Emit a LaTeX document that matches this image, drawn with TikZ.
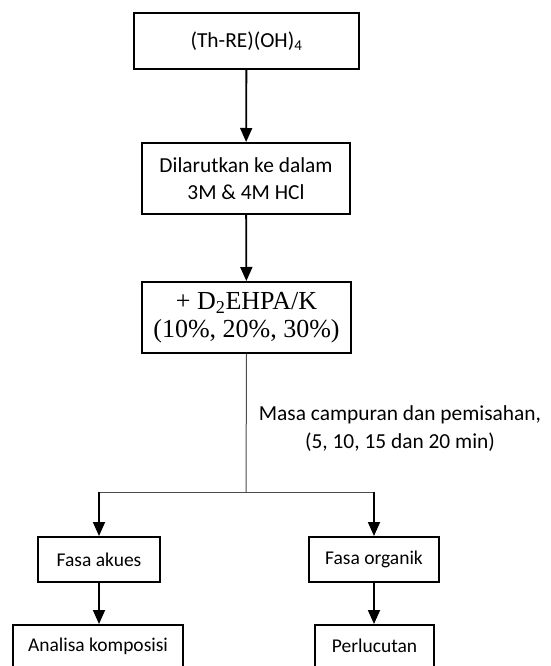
\documentclass[tikz,border=0pt]{standalone}
\usepackage{fontspec}
\setmainfont{Carlito}
\newfontfamily\timesf{Liberation Serif}
\usetikzlibrary{arrows.meta}
\begin{document}
\begin{tikzpicture}[x=1pt,y=-1pt,
  box/.style={draw=black,line width=2pt,fill=white,inner sep=0pt,font=\fontsize{21.4}{27}\selectfont,align=center},
  small/.style={font=\fontsize{19.5}{24}\selectfont},
  arr/.style={line width=1.8pt,-{Triangle[width=12pt,length=14pt]}},
  thin/.style={line width=1pt,draw=black!70}]
\useasboundingbox (0,0) rectangle (550,666);
\clip (0,0) rectangle (550,666);
\node[box,minimum width=225pt,minimum height=56pt] (b1) at (246.5,41) {(Th-RE)(OH)\textsubscript{4}};
\node[box,minimum width=208pt,minimum height=71pt] (b2) at (246,178.5) {Dilarutkan ke dalam\\3M \& 4M HCl};
\node[box,minimum width=209pt,minimum height=71pt,font=\timesf\fontsize{26}{28}\selectfont] (b3) at (246.5,317.5) {+ D\textsubscript{2}EHPA/K\\(10\%, 20\%, 30\%)};
\node[box,small,minimum width=122pt,minimum height=45pt] (b4) at (99,559.5) {Fasa akues};
\node[box,small,minimum width=130pt,minimum height=45pt] (b5) at (374,559.5) {Fasa organik};
\node[box,minimum width=170pt,minimum height=90pt] (b6) at (98,670) {};
\node[box,minimum width=119pt,minimum height=90pt] (b7) at (374.5,670) {};
\node[small] (t6) at (98,646) {Analisa komposisi};
\node[small] (t7) at (374.5,646) {Perlucutan};
\node[font=\fontsize{21.4}{28}\selectfont,align=center] (lab) at (400,429) {Masa campuran dan pemisahan,\\(5, 10, 15 dan 20 min)};
\coordinate (j) at (246,492);
\coordinate (jl) at (99,492);
\coordinate (jr) at (374,492);
\draw[arr] (b1) -- (b2);
\draw[arr] (b2) -- (b3);
\draw[thin] (b3.south) -- (j);
\draw[thin] (jl) -- (jr);
\draw[arr] (jl) -- (b4.north);
\draw[arr] (jr) -- (b5.north);
\draw[arr] (b4.south) -- (b4.south |- b6.north);
\draw[arr] (b5.south) -- (b5.south |- b7.north);
\end{tikzpicture}
\end{document}
